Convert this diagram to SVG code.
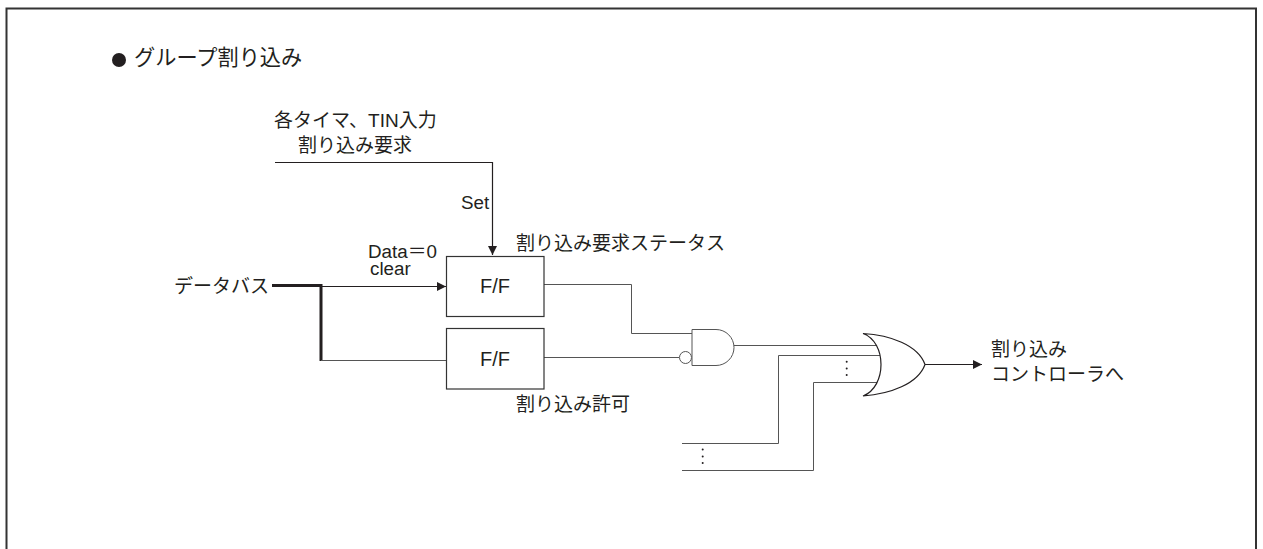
<svg xmlns="http://www.w3.org/2000/svg" width="1263" height="549" viewBox="0 0 1263 549">
<style>
text{font-family:"Liberation Sans","Noto Sans CJK JP",sans-serif;font-size:19px;fill:#231f20}
.thin{fill:none;stroke:#555;stroke-width:1}
.blk{fill:none;stroke:#231f20;stroke-width:1.2}
.thick{fill:none;stroke:#231f20;stroke-width:3}
.box{fill:#fff;stroke:#333;stroke-width:1.2}
.dot{fill:#231f20}
.ff{font-size:20px}
.small{font-size:18.8px}
</style>
<defs>
<marker id="arrow" markerUnits="userSpaceOnUse" markerWidth="9" markerHeight="9" refX="9" refY="4.5" orient="auto"><path d="M0,0L9,4.500L0,9Z" fill="#231f20"/></marker>
</defs>
<path d="M6.500,549V8.500H1256V549" fill="none" stroke="#333" stroke-width="2"/>
<g id="connectors">
<path class="blk" d="M275,162.500H492.500V255" marker-end="url(#arrow)"/>
<path class="thick" d="M272,285.500H321V361"/>
<path class="blk" d="M321,286.500H446" marker-end="url(#arrow)"/>
<path class="thin" d="M321,360.500H447"/>
<path class="thin" d="M544,284.500H631.500V333.500H692"/>
<path class="thin" d="M544,357.500H679"/>
<path class="thin" d="M734,345.500H880"/>
<path class="thin" d="M682,443.500H778.500V355.500H881"/>
<path class="thin" d="M682,470.500H813.500V382.500H878"/>
<path class="blk" d="M925,364.500H982" marker-end="url(#arrow)"/>
</g>
<g id="title"><circle class="dot" cx="119" cy="60" r="7"/><text x="134" y="65" style="font-size:21.200px">グループ割り込み</text></g>
<g id="label-input"><text x="274" y="127">各タイマ、TIN入力</text><text x="298" y="151.500">割り込み要求</text></g>
<text id="label-set" class="small" x="461" y="209">Set</text>
<text id="label-data" class="small" x="368" y="258">Data＝0</text>
<text id="label-clear" class="small" x="370" y="275">clear</text>
<text id="label-bus" x="174" y="292.500">データバス</text>
<text id="label-status" x="516" y="250">割り込み要求ステータス</text>
<text id="label-enable" x="516" y="410.500">割り込み許可</text>
<g id="ff1"><rect class="box" x="446.500" y="256.500" width="97.500" height="60"/><text x="495" y="293" text-anchor="middle" class="ff">F/F</text></g>
<g id="ff2"><rect class="box" x="446.500" y="328.500" width="97.500" height="60.500"/><text x="495" y="366" text-anchor="middle" class="ff">F/F</text></g>
<g id="and-gate">
<path class="thin" d="M692,329.500H716A18,18 0 0 1 716,365.500H692Z" style="fill:#fff"/>
<circle class="thin" cx="685.500" cy="357.500" r="6" style="fill:#fff"/>
</g>
<g id="or-gate">
<path class="blk" d="M863,333.500C890,335 918,345 925,364.500C918,384 890,394 863,396C887,387 887,342 863,333.500Z" style="fill:#fff"/>
</g>
<g id="dots-upper"><circle class="dot" cx="846.700" cy="361.700" r="1"/><circle class="dot" cx="846.700" cy="368.500" r="1"/><circle class="dot" cx="846.700" cy="375" r="1"/></g>
<g id="dots-lower"><circle class="dot" cx="702.700" cy="449.500" r="1"/><circle class="dot" cx="702.700" cy="456.500" r="1"/><circle class="dot" cx="702.700" cy="463" r="1"/></g>
<g id="label-out"><text x="991" y="355.500">割り込み</text><text x="991" y="381">コントローラへ</text></g>
</svg>
